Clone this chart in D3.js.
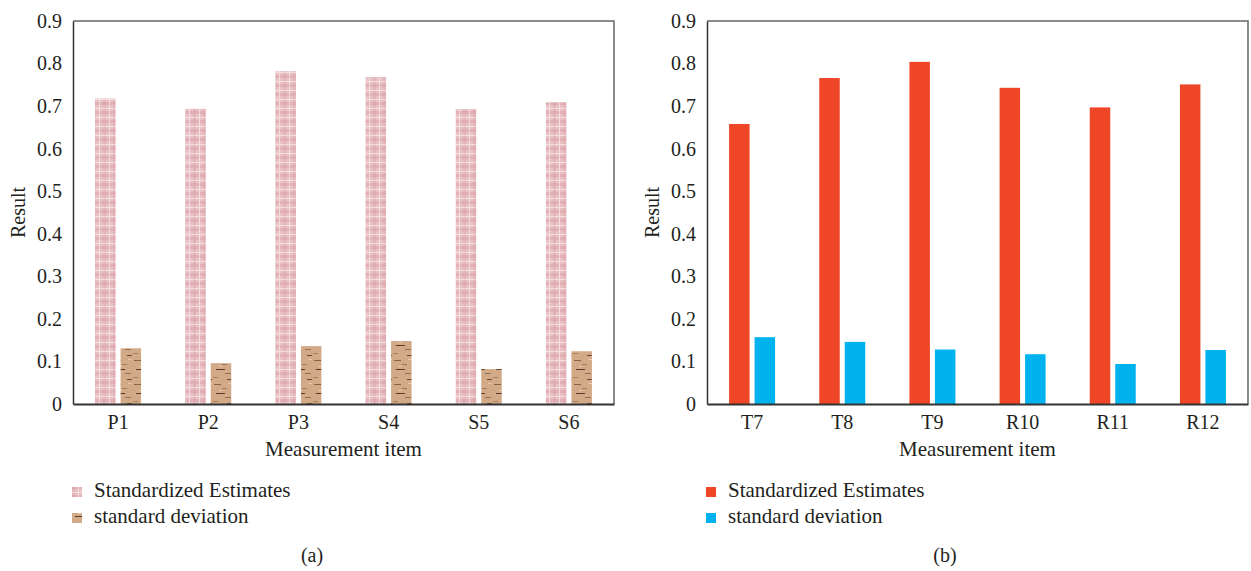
<!DOCTYPE html>
<html>
<head>
<meta charset="utf-8">
<script src="https://cdn.jsdelivr.net/npm/d3@7"></script>
<style>
  body { margin: 0; background: #fff; }
  text { font-family: "Liberation Serif", serif; fill: #231f20; }
</style>
</head>
<body>
<svg id="chart" width="1251" height="571"></svg>
<script>
// data
const categoriesA = ['P1', 'P2', 'P3', 'S4', 'S5', 'S6'];
const estimatesA = [0.718, 0.694, 0.782, 0.768, 0.693, 0.709];
const deviationA = [0.131, 0.096, 0.136, 0.148, 0.082, 0.124];

const categoriesB = ['T7', 'T8', 'T9', 'R10', 'R11', 'R12'];
const estimatesB = [0.658, 0.766, 0.804, 0.743, 0.697, 0.751];
const deviationB = [0.157, 0.146, 0.128, 0.117, 0.094, 0.127];

const yTicks = [0, 0.1, 0.2, 0.3, 0.4, 0.5, 0.6, 0.7, 0.8, 0.9];
const seriesNames = ['Standardized Estimates', 'standard deviation'];

const svg = d3.select('#chart');
const defs = svg.append('defs');

// pink plaid texture
const plaid = defs.append('pattern')
  .attr('id', 'plaid')
  .attr('patternUnits', 'userSpaceOnUse')
  .attr('width', 10).attr('height', 9);
plaid.append('rect').attr('width', 10).attr('height', 9).attr('fill', '#e9c2c5');
plaid.append('rect').attr('x', 0).attr('y', 0).attr('width', 10).attr('height', 3).attr('fill', '#dca5ab').attr('opacity', 0.6);
plaid.append('rect').attr('x', 0).attr('y', 0).attr('width', 3).attr('height', 9).attr('fill', '#dca5ab').attr('opacity', 0.45);
plaid.append('rect').attr('x', 6).attr('y', 0).attr('width', 1).attr('height', 9).attr('fill', '#f6e3e5').attr('opacity', 0.8);
plaid.append('rect').attr('x', 0).attr('y', 6).attr('width', 10).attr('height', 1).attr('fill', '#f6e3e5').attr('opacity', 0.8);

// brown wood-like texture
const wood = defs.append('pattern')
  .attr('id', 'wood')
  .attr('patternUnits', 'userSpaceOnUse')
  .attr('width', 20).attr('height', 24);
wood.append('rect').attr('width', 20).attr('height', 24).attr('fill', '#d2aa88');
[[1, 3, 7, '#8a6446'], [9, 7, 5, '#a07a5a'], [3, 12, 9, '#5a3b27'], [12, 16, 6, '#94704f'],
 [0, 20, 5, '#a98160'], [14, 22, 5, '#6b4a33'], [6, 9, 3, '#e6c9ad'], [15, 2, 4, '#e6c9ad']]
  .forEach(s => {
    wood.append('rect').attr('x', s[0]).attr('y', s[1]).attr('width', s[2]).attr('height', 1).attr('fill', s[3]);
  });

function drawPanel(opts) {
  const left = opts.left, top = 21, w = 541, h = 383;
  const g = svg.append('g').attr('transform', `translate(${left},${top})`);

  const x = d3.scaleBand().domain(opts.categories).range([0, w]);
  const y = d3.scaleLinear().domain([0, 0.9]).range([h, 0]);

  const barW = 20.5, gap = 5;

  // frame top/right
  g.append('path')
    .attr('d', `M0,0H${w}V${h}`)
    .attr('fill', 'none')
    .attr('stroke', '#666')
    .attr('stroke-width', 1.5);

  g.selectAll('.est')
    .data(opts.estimates)
    .enter().append('rect')
    .attr('class', 'est')
    .attr('x', (d, i) => x(opts.categories[i]) + x.bandwidth() / 2 - barW - gap / 2)
    .attr('y', d => y(d))
    .attr('width', barW)
    .attr('height', d => h - y(d))
    .attr('fill', opts.colors[0]);

  g.selectAll('.sd')
    .data(opts.deviation)
    .enter().append('rect')
    .attr('class', 'sd')
    .attr('x', (d, i) => x(opts.categories[i]) + x.bandwidth() / 2 + gap / 2)
    .attr('y', d => y(d))
    .attr('width', barW)
    .attr('height', d => h - y(d))
    .attr('fill', opts.colors[1]);

  const yAxis = d3.axisLeft(y).tickValues(yTicks).tickSize(0).tickPadding(11)
    .tickFormat(d => d === 0 ? '0' : d3.format('.1f')(d));
  const gY = g.append('g').call(yAxis);
  gY.select('.domain').attr('stroke', '#333').attr('stroke-width', 1.5);
  gY.selectAll('text').style('font-size', '20px').attr('fill', '#231f20');

  const xAxis = d3.axisBottom(x).tickSize(0).tickPadding(11);
  const gX = g.append('g').attr('transform', `translate(0,${h})`).call(xAxis);
  gX.select('.domain').attr('stroke', '#333').attr('stroke-width', 2);
  gX.selectAll('text').style('font-size', '20px').attr('fill', '#231f20');

  g.append('text')
    .attr('transform', 'rotate(-90)')
    .attr('x', -h / 2)
    .attr('y', -48)
    .style('text-anchor', 'middle')
    .style('font-size', '20px')
    .text('Result');

  g.append('text')
    .attr('x', w / 2)
    .attr('y', h + 52)
    .style('text-anchor', 'middle')
    .style('font-size', '21px')
    .text('Measurement item');

  // legend
  const lg = svg.append('g').attr('transform', `translate(${opts.legendX},0)`);
  seriesNames.forEach((name, i) => {
    lg.append('rect')
      .attr('x', 0).attr('y', 487 + i * 26)
      .attr('width', 10).attr('height', 10)
      .attr('fill', opts.colors[i]);
    lg.append('text')
      .attr('x', 22).attr('y', 497 + i * 26)
      .style('font-size', '21px')
      .text(name);
  });

  svg.append('text')
    .attr('x', opts.labelX).attr('y', 562)
    .style('text-anchor', 'middle')
    .style('font-size', '20px')
    .text(opts.label);
}

drawPanel({
  left: 73, categories: categoriesA, estimates: estimatesA, deviation: deviationA,
  colors: ['url(#plaid)', 'url(#wood)'], legendX: 72, labelX: 312, label: '(a)'
});
drawPanel({
  left: 707, categories: categoriesB, estimates: estimatesB, deviation: deviationB,
  colors: ['#ef4627', '#00b3ef'], legendX: 706, labelX: 945, label: '(b)'
});
</script>
</body>
</html>
